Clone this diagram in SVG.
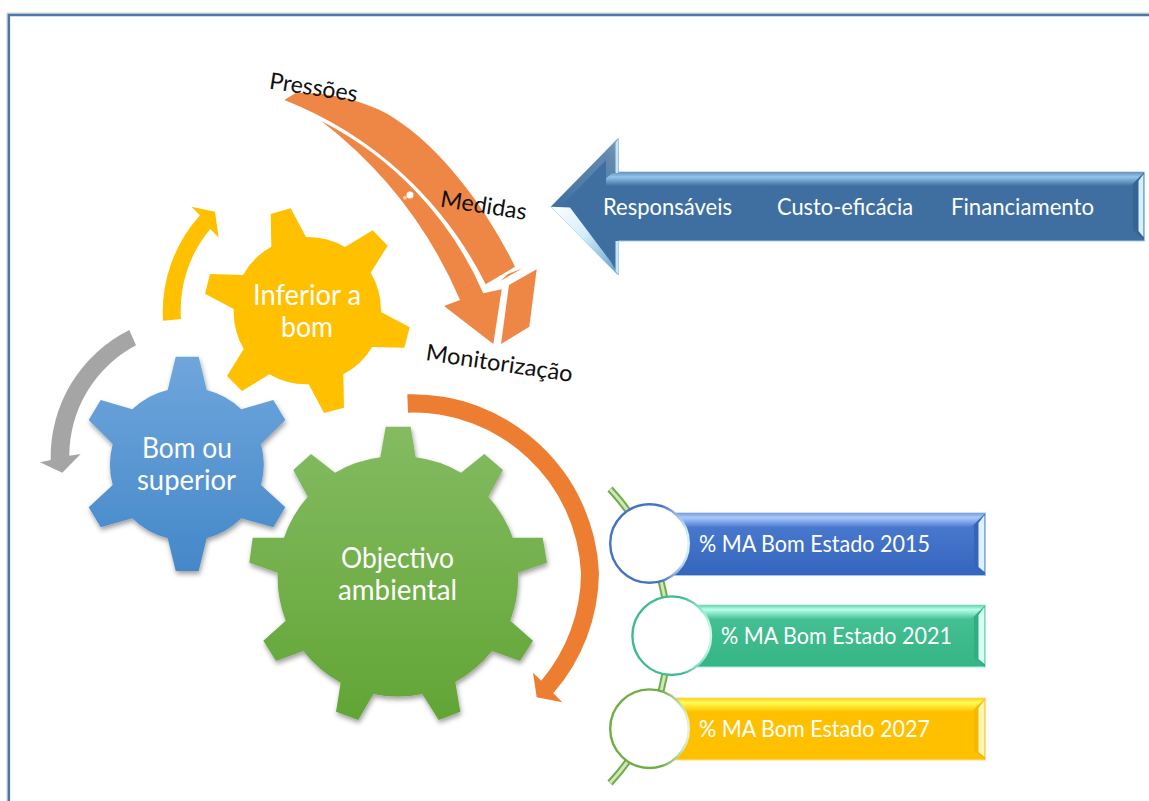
<svg xmlns="http://www.w3.org/2000/svg" width="1149" height="801" viewBox="0 0 1149 801">
<style>
text{font-family:"Lato","Liberation Sans",sans-serif}
.w{fill:#fff;text-anchor:middle}
.g{font-size:29px}
.a{font-size:22.5px}
.b{font-size:23.5px}
.k{fill:#111;font-size:23px}
.o{fill:#ee8745}
</style>
<defs>
<linearGradient id="gb" x1="0" y1="0" x2="0" y2="1"><stop offset="0" stop-color="#6fa6dc"/><stop offset="1" stop-color="#4488c9"/></linearGradient>
<linearGradient id="gg" x1="0" y1="0" x2="0" y2="1"><stop offset="0" stop-color="#84bb62"/><stop offset="1" stop-color="#62a535"/></linearGradient>
<linearGradient id="bar1" x1="0" y1="0" x2="0" y2="1"><stop offset="0" stop-color="#4c7dd2"/><stop offset="1" stop-color="#3566bd"/></linearGradient>
<linearGradient id="bar2" x1="0" y1="0" x2="0" y2="1"><stop offset="0" stop-color="#48c297"/><stop offset="1" stop-color="#35b585"/></linearGradient>
<linearGradient id="top1" x1="0" y1="0" x2="0" y2="1"><stop offset="0" stop-color="#7fa3e4"/><stop offset=".3" stop-color="#a9c9fb"/><stop offset="1" stop-color="#4c7dd2"/></linearGradient>
<linearGradient id="top2" x1="0" y1="0" x2="0" y2="1"><stop offset="0" stop-color="#6fd8b6"/><stop offset=".3" stop-color="#b8ffe9"/><stop offset="1" stop-color="#48c297"/></linearGradient>
<linearGradient id="top3" x1="0" y1="0" x2="0" y2="1"><stop offset="0" stop-color="#ffd02a"/><stop offset=".3" stop-color="#ffff55"/><stop offset="1" stop-color="#ffc000"/></linearGradient>
<linearGradient id="topa" x1="0" y1="0" x2="0" y2="1"><stop offset="0" stop-color="#6f9cc4"/><stop offset=".3" stop-color="#93c5ec"/><stop offset="1" stop-color="#3e6fa0"/></linearGradient>
<linearGradient id="c1" x1="0" y1="0" x2="1" y2="0"><stop offset="0" stop-color="#4472c4"/><stop offset=".65" stop-color="#4472c4"/><stop offset="1" stop-color="#d5f3f5"/></linearGradient>
<linearGradient id="c2" x1="0" y1="0" x2="1" y2="0"><stop offset="0" stop-color="#3fbb90"/><stop offset=".65" stop-color="#3fbb90"/><stop offset="1" stop-color="#c8fbea"/></linearGradient>
<linearGradient id="c3" x1="0" y1="0" x2="1" y2="0"><stop offset="0" stop-color="#70ad47"/><stop offset=".65" stop-color="#70ad47"/><stop offset="1" stop-color="#e3f3d8"/></linearGradient>
<linearGradient id="alow" x1="0" y1="0" x2="1" y2="1"><stop offset="0" stop-color="#ffffff"/><stop offset=".45" stop-color="#d4eefb"/><stop offset="1" stop-color="#5f9ccb"/></linearGradient>
<linearGradient id="aup" x1="0" y1="1" x2="1" y2="0"><stop offset="0" stop-color="#3e6fa0"/><stop offset=".8" stop-color="#6389ae"/><stop offset="1" stop-color="#7c9fc0"/></linearGradient>
<filter id="sh" x="-10%" y="-10%" width="125%" height="125%"><feDropShadow dx="1" dy="3" stdDeviation="2.5" flood-color="#000" flood-opacity=".38"/></filter>
</defs>

<g id="frame" fill="none">
<path d="M8.7,801V14.8H1149" stroke="#4a79a8" stroke-width="2.8"/>
<path d="M7,801V13H1149" stroke="#c9ced3" stroke-width="1"/>
</g>

<g id="connectors">
<path id="pressoes-arrow-upper" class="o" d="M284.3,100L295.3,93.3C330,91 370,103 392,116.7C445,150 490,215 515,266.7L485.7,284.3A380,380 0 0 0 284.3,100Z"/>
<path id="pressoes-arrow-lower" class="o" d="M321.3,121A350,350 0 0 1 483.3,293.3L501.7,289.3L493.3,344L444,306L460,300A450,450 0 0 0 321.3,121Z"/>
<polygon class="o" points="509,285 536.7,269.3 529.3,326.7 501,344"/>
<polygon class="o" points="500.7,280.7 522.7,268.3 508,274"/>
<path d="M460,292L473,283" stroke="#e5793a" stroke-width="1" opacity=".6" fill="none"/>
<circle cx="410" cy="195" r="3.5" fill="#fff"/>
<circle cx="405" cy="197.7" r="2" fill="#f7cbb3"/>
<path id="arrow-yellow" fill="#ffc000" d="M163,320.7A144,144 0 0 1 200,215.3L191.3,206.7L215,211.7L218.7,237.7L210.3,229A126,126 0 0 0 181,319Z"/>
<path id="arrow-gray" fill="#a5a5a5" d="M129.3,330L136,345.3A125,125 0 0 0 69.3,455.7L80.7,454L62.3,472.7L40,462.3L50.7,460A142,142 0 0 1 129.3,330Z"/>
<path id="arrow-orange" fill="#ed7d31" d="M407.3,394.3A187,187 0 0 1 599,573A187,187 0 0 1 553.3,693.3L562.3,702.3L536.7,697.3L533,672.7L541.3,680.7A168,168 0 0 0 581,573A168,168 0 0 0 408,412.7Z"/>
<path id="timeline-outer" fill="none" stroke="#70ad47" stroke-width="7" d="M610,489A215,215 0 0 1 610,783"/>
<path id="timeline-inner" fill="none" stroke="#cfe6c0" stroke-width="3" d="M610,489A215,215 0 0 1 610,783"/>
</g>

<g id="gear-inferior">
<path fill="#ffc000" d="M270.7,214L290.7,208.3L306,237A74,74 0 0 1 345,247L372.7,230.3L387.7,245.7L370.7,272.7A74,74 0 0 1 381,312L409.7,327.3L404.3,347.7L372.3,347A74,74 0 0 1 343.3,374.3L344,407.7L324,413L308.7,384.3A74,74 0 0 1 269.3,374.3L242,391L227,376L243.7,349A74,74 0 0 1 233.7,309L205,293.7L210,274L243,275A74,74 0 0 1 271.3,246.7Z"/>
<text class="w g" x="307" y="304.5" textLength="108" lengthAdjust="spacingAndGlyphs">Inferior a</text>
<text class="w g" x="307" y="336.5" textLength="52" lengthAdjust="spacingAndGlyphs">bom</text>
</g>

<g id="gear-bom">
<path fill="url(#gb)" filter="url(#sh)" d="M167.7,390L175.7,356.7H198.7L206.7,390A77,77 0 0 1 241.3,409.3L273.3,400L285.3,420L261,444A77,77 0 0 1 261,485L285.3,507.3L273.3,527.3L241.3,518.3A77,77 0 0 1 206.7,538.3L198.7,571H175.7L167.7,538.3A77,77 0 0 1 132.3,518.3L100.7,527.3L88.7,507.3L112.7,485A77,77 0 0 1 112.7,444L88.7,420L100.7,400L132.3,409.3A77,77 0 0 1 167.7,390Z"/>
<text class="w g" x="187" y="457.5" textLength="90" lengthAdjust="spacingAndGlyphs">Bom ou</text>
<text class="w g" x="186.5" y="490" textLength="99" lengthAdjust="spacingAndGlyphs">superior</text>
</g>

<g id="gear-objectivo">
<path fill="url(#gg)" filter="url(#sh)" d="M380.3,457.3L385.7,426.7H410.7L415.7,457.3A120,120 0 0 1 461,472.7L484.3,454L503,470L488.3,496.7A120,120 0 0 1 512.7,537.7H542.7L547,562.7L518,572.7A120,120 0 0 1 510.3,620.7L533,640.7L520,661L492,651A120,120 0 0 1 455.3,682L460.3,711.7L438.7,720L422.3,694A120,120 0 0 1 373.3,694L358.3,720L336,711.7L340.7,682.7A120,120 0 0 1 303.3,651L276,661L263.3,640.7L285.7,620.7A120,120 0 0 1 277.7,572.7L249.3,562.7L252.7,537.7H284A120,120 0 0 1 307.7,496.7L293.3,470L311,454L335,472.7A120,120 0 0 1 380.3,457.3Z"/>
<text class="w g" x="397.5" y="567.5" textLength="113" lengthAdjust="spacingAndGlyphs">Objectivo</text>
<text class="w g" x="397.5" y="599.5" textLength="119" lengthAdjust="spacingAndGlyphs">ambiental</text>
</g>

<g id="arrow-acoes">
<polygon fill="#3e6fa0" stroke="#9cc6e6" stroke-width="1" points="551,206.7 618.3,138.3 618.3,172 1144.5,172 1144.5,241 618.3,241 618.3,275"/>
<polygon fill="url(#topa)" points="612,173 1143.5,173 1131,186 597,186"/>
<polygon fill="#376593" points="1143.5,173 1143.5,240 1133,230 1133,184"/>
<polygon fill="#d6f1ff" points="1143.5,174 1138.5,181 1138.5,231 1143.5,237"/>
<polygon fill="url(#aup)" points="551,206.7 618.3,138.3 618.3,172 612,173 597,186 575,207"/>
<polygon fill="#3e6fa0" points="561,206.7 606,160 606,190 575,207"/>
<polygon fill="#c6e6f8" points="615.5,143 618.3,138.3 618.3,173 615.5,173"/>
<polygon fill="url(#alow)" points="551,206.7 570,207.5 611,262 618.3,275"/>
<polygon fill="#c6e6f8" points="615.5,241 618.3,241 618.3,275 615.5,271"/>
<text class="w a" x="667.5" y="214.5" textLength="129" lengthAdjust="spacingAndGlyphs">Responsáveis</text>
<text class="w a" x="845" y="214.5" textLength="136" lengthAdjust="spacingAndGlyphs">Custo-eficácia</text>
<text class="w a" x="1022.5" y="214.5" textLength="143" lengthAdjust="spacingAndGlyphs">Financiamento</text>
</g>

<g id="label-pressoes"><text class="k" transform="translate(268.5,88.5) rotate(8.7)" textLength="89" lengthAdjust="spacingAndGlyphs">Pressões</text></g>
<g id="label-medidas"><text class="k" transform="translate(439.5,206.5) rotate(8.8)" textLength="87" lengthAdjust="spacingAndGlyphs">Medidas</text></g>
<g id="label-monitorizacao"><text class="k" transform="translate(425,360) rotate(8.5)" textLength="148" lengthAdjust="spacingAndGlyphs">Monitorização</text></g>

<g id="item-2015">
<rect x="650" y="513" width="335.5" height="62.5" fill="url(#bar1)" stroke="#a6c2ee" stroke-width="1"/>
<polygon fill="url(#top1)" points="650,513.5 985,513.5 971,527 650,527"/>
<polygon fill="#3565b8" points="985,514 985,575 974,566 974,525"/>
<polygon fill="#dff2ff" points="984.5,515 978.5,523 978.5,567 984.5,572"/>
<circle cx="649.5" cy="543.5" r="39.3" fill="#fff" stroke="url(#c1)" stroke-width="2.4"/>
<text class="w b" x="814.5" y="551.5" textLength="231" lengthAdjust="spacingAndGlyphs">% MA Bom Estado 2015</text>
</g>
<g id="item-2021">
<rect x="672" y="605" width="313.5" height="62" fill="url(#bar2)" stroke="#a8ecd6" stroke-width="1"/>
<polygon fill="url(#top2)" points="672,605.5 985,605.5 971,619 672,619"/>
<polygon fill="#33ad80" points="985,606 985,667 974,658 974,617"/>
<polygon fill="#d8fff4" points="984.5,607 978.5,615 978.5,659 984.5,664"/>
<circle cx="671.7" cy="635.7" r="39.3" fill="#fff" stroke="url(#c2)" stroke-width="2.4"/>
<text class="w b" x="836.5" y="643.5" textLength="231" lengthAdjust="spacingAndGlyphs">% MA Bom Estado 2021</text>
</g>
<g id="item-2027">
<rect x="650" y="698" width="335.5" height="62" fill="#ffc000" stroke="#ffe08a" stroke-width="1"/>
<polygon fill="url(#top3)" points="650,698.5 985,698.5 971,712 650,712"/>
<polygon fill="#f5b800" points="985,699 985,760 974,751 974,710"/>
<polygon fill="#fff6b5" points="984.5,700 978.5,708 978.5,752 984.5,757"/>
<circle cx="649.5" cy="728.7" r="39.3" fill="#fff" stroke="url(#c3)" stroke-width="2.4"/>
<text class="w b" x="814.5" y="736.5" textLength="231" lengthAdjust="spacingAndGlyphs">% MA Bom Estado 2027</text>
</g>
</svg>
